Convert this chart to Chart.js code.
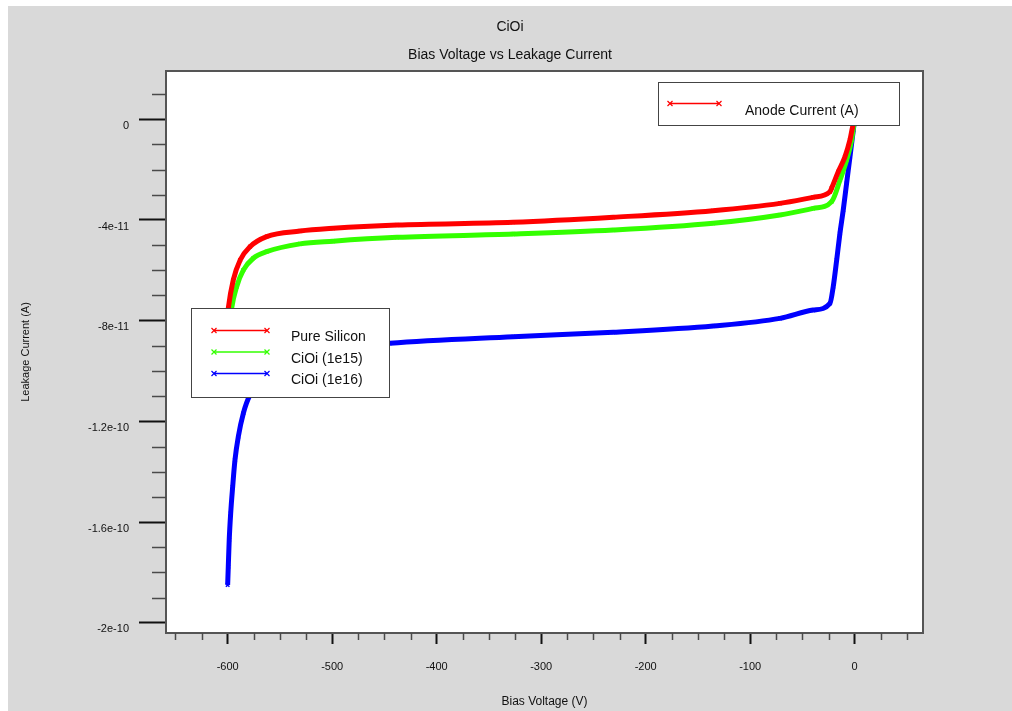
<!DOCTYPE html>
<html><head><meta charset="utf-8">
<script src="https://cdn.jsdelivr.net/npm/chart.js@4/dist/chart.umd.min.js"></script>
<style>html,body{margin:0;padding:0;background:#fff;}canvas{display:block;}</style>
</head><body>
<canvas id="c" width="1012" height="711"></canvas>
<script>
const chartTitle = 'CiOi';
const chartSubtitle = 'Bias Voltage vs Leakage Current';
const xAxisTitle = 'Bias Voltage (V)';
const yAxisTitle = 'Leakage Current (A)';
const seriesNames = ['Pure Silicon', 'CiOi (1e15)', 'CiOi (1e16)'];
const quantityName = 'Anode Current (A)';
const seriesColors = ['#ff0000', '#33ff00', '#0000ff'];

// currents given in units of 1e-11 A
const currentUnit = 1e-11;
const pureVolts   = [0, -1.9, -4.5, -9.3, -15.7, -22, -23.6, -39.9, -71.5, -135.6, -231, -327, -438, -499, -530.8, -562.7, -578.6, -588, -594.6, -599.4, -600.5];
const pureCurrent = [0, -0.29, -0.82, -1.49, -2.08, -2.73, -2.88, -3.10, -3.34, -3.63, -3.89, -4.09, -4.20, -4.33, -4.44, -4.66, -5.06, -5.59, -6.38, -7.51, -8.0];
const c15Volts    = [0, -2.9, -7.7, -14, -22, -39.6, -71.5, -135.3, -231, -326.7, -438, -499, -530.8, -562.7, -575.5, -585, -591.4, -596.2, -597.5];
const c15Current  = [0, -0.82, -1.62, -2.41, -3.27, -3.54, -3.80, -4.13, -4.40, -4.56, -4.69, -4.84, -4.95, -5.26, -5.52, -5.99, -6.65, -7.51, -8.0];
const c16Volts    = [0, -1.3, -4.5, -7.7, -10.9, -14.1, -17.2, -20.5, -23.6, -39.6, -71.5, -135.3, -231, -326.7, -444.7, -480, -520, -560, -578.6, -585, -589.8, -593, -595.2, -597.1, -598.5, -599.4, -600];
const c16Current  = [0, -0.43, -1.49, -2.54, -3.60, -4.53, -5.59, -6.65, -7.31, -7.58, -7.91, -8.21, -8.46, -8.64, -8.90, -9.05, -9.35, -10.0, -10.95, -11.68, -12.61, -13.54, -14.60, -15.65, -16.71, -17.78, -18.50];

const xMajorTicks = [-600, -500, -400, -300, -200, -100, 0];
const xTickLabels = ['-600', '-500', '-400', '-300', '-200', '-100', '0'];
const xMinorTicks = [-650, -625, -575, -550, -525, -475, -450, -425, -375, -350, -325, -275, -250, -225, -175, -150, -125, -75, -50, -25, 25, 50];
const yMajorTicks = [0, -4, -8, -12, -16, -20];
const yTickLabels = ['0', '-4e-11', '-8e-11', '-1.2e-10', '-1.6e-10', '-2e-10'];
const yMinorTicks = [1, -1, -2, -3, -5, -6, -7, -9, -10, -11, -13, -14, -15, -17, -18, -19];

const xRange = [-659, 65.4];
const yRange = [-20.41, 1.92];

function pts(v, c) { return v.map((x, i) => ({ x: x, y: c[i] * currentUnit })); }

const FONT = '"Liberation Sans", Arial, Helvetica, sans-serif';
Chart.defaults.font.family = FONT;
Chart.defaults.color = '#111';

function drawSample(c, x1, x2, y, color) {
  c.strokeStyle = color; c.lineWidth = 1.5;
  c.beginPath(); c.moveTo(x1, y); c.lineTo(x2, y); c.stroke();
  c.lineWidth = 1.2;
  for (const x of [x1, x2]) {
    c.beginPath();
    c.moveTo(x - 2.5, y - 2.5); c.lineTo(x + 2.5, y + 2.5);
    c.moveTo(x - 2.5, y + 2.5); c.lineTo(x + 2.5, y - 2.5);
    c.stroke();
  }
}

const framePlugin = {
  id: 'frame',
  beforeDraw(chart) {
    const c = chart.ctx, a = chart.chartArea;
    c.save();
    c.fillStyle = '#ffffff'; c.fillRect(0, 0, chart.width, chart.height);
    c.fillStyle = '#d9d9d9'; c.fillRect(8, 6, chart.width - 8, chart.height - 6);
    c.fillStyle = '#ffffff'; c.fillRect(a.left, a.top, a.right - a.left, a.bottom - a.top);
    c.restore();
  },
  afterDatasetsDraw(chart) {
    const c = chart.ctx, a = chart.chartArea;
    const xs = chart.scales.x, ys = chart.scales.y;
    c.save();
    c.strokeStyle = '#555'; c.lineWidth = 2;
    c.strokeRect(a.left, a.top, a.right - a.left, a.bottom - a.top);
    c.strokeStyle = '#4a4a4a'; c.lineWidth = 1.5;
    for (const v of xMinorTicks) {
      const px = Math.round(xs.getPixelForValue(v)) + 0.5;
      c.beginPath(); c.moveTo(px, a.bottom); c.lineTo(px, a.bottom + 7); c.stroke();
    }
    for (const v of yMinorTicks) {
      const py = Math.round(ys.getPixelForValue(v * currentUnit)) + 0.5;
      c.beginPath(); c.moveTo(a.left - 14, py); c.lineTo(a.left, py); c.stroke();
    }
    c.fillStyle = '#fff'; c.fillRect(191, 308, 198, 89);
    c.strokeStyle = '#444'; c.lineWidth = 1; c.strokeRect(191.5, 308.5, 198, 89);
    c.font = '14px ' + FONT; c.textBaseline = 'alphabetic'; c.textAlign = 'left';
    const rowsY = [330.5, 352, 373.5];
    for (let i = 0; i < 3; i++) {
      drawSample(c, 214, 267, rowsY[i], seriesColors[i]);
      c.fillStyle = '#111';
      c.fillText(seriesNames[i], 291, rowsY[i] + 10.5);
    }
    c.fillStyle = '#fff'; c.fillRect(658, 82, 241, 43);
    c.strokeStyle = '#444'; c.lineWidth = 1; c.strokeRect(658.5, 82.5, 241, 43);
    drawSample(c, 670, 719, 103.5, '#ff0000');
    c.fillStyle = '#111';
    c.fillText(quantityName, 745, 114.5);
    c.restore();
  }
};

const ds = (i, v, cur) => ({
  label: seriesNames[i], data: pts(v, cur), showLine: true,
  borderColor: seriesColors[i], backgroundColor: seriesColors[i],
  borderWidth: 5, cubicInterpolationMode: 'monotone', pointStyle: 'crossRot', pointRadius: 2.5, pointBorderWidth: 1.5,
  pointBorderColor: seriesColors[i]
});

new Chart(document.getElementById('c'), {
  type: 'scatter',
  data: { datasets: [ds(0, pureVolts, pureCurrent), ds(1, c15Volts, c15Current), ds(2, c16Volts, c16Current)] },
  options: {
    responsive: false, animation: false, events: [],
    layout: { padding: { left: 8, right: 0, top: 0, bottom: 0 } },
    plugins: {
      legend: { display: false }, tooltip: { enabled: false },
      title: { display: true, text: chartTitle, color: '#111', font: { size: 14, weight: 'normal' }, padding: { top: 18.6, bottom: 0 } },
      subtitle: { display: true, text: chartSubtitle, color: '#111', font: { size: 14, weight: 'normal' }, padding: { top: 11.2, bottom: 7.6 } }
    },
    scales: {
      x: {
        type: 'linear', position: 'bottom', min: xRange[0], max: xRange[1],
        afterFit(s) { s.height = 78; },
        afterBuildTicks(s) { s.ticks = xMajorTicks.map(v => ({ value: v })); },
        ticks: { autoSkip: false, maxRotation: 0, padding: 16, color: '#111', font: { size: 11 }, callback: (v, i) => xTickLabels[i] },
        grid: { drawOnChartArea: false, drawTicks: true, tickLength: 11, tickColor: '#111', tickWidth: 2 },
        border: { display: false },
        title: { display: true, text: xAxisTitle, color: '#111', font: { size: 12 }, padding: { top: 0, bottom: 2 } }
      },
      y: {
        type: 'linear', position: 'left', min: yRange[0] * currentUnit, max: yRange[1] * currentUnit,
        afterFit(s) { s.width = 158; },
        afterBuildTicks(s) { s.ticks = yMajorTicks.map(v => ({ value: v * currentUnit })); },
        ticks: { autoSkip: false, padding: 10, labelOffset: 6.5, color: '#111', font: { size: 11 }, callback: (v, i) => yTickLabels[i] },
        grid: { drawOnChartArea: false, drawTicks: true, tickLength: 27, tickColor: '#111', tickWidth: 2 },
        border: { display: false },
        title: { display: true, text: yAxisTitle, color: '#111', font: { size: 11 }, padding: { top: 11.4, bottom: 0 } }
      },
      y2: {
        type: 'linear', position: 'right', display: true,
        afterFit(s) { s.width = 89; },
        ticks: { display: false }, grid: { display: false }, border: { display: false }
      }
    }
  },
  plugins: [framePlugin]
});
</script>
</body></html>
